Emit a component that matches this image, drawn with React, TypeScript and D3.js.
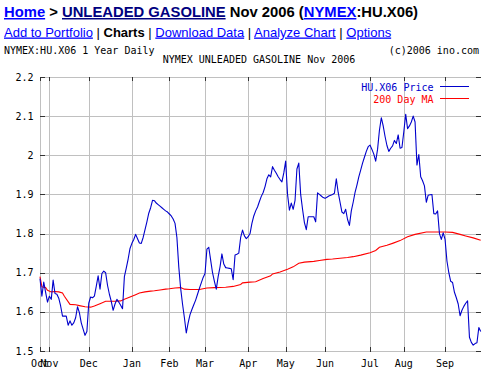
import React from 'react';
import * as d3 from 'd3';

const W = 492;
const H = 372;

// daily settlement, one value per trading session (session 0 = late Oct 2005)
const priceValues = [
  1.685, 1.640, 1.676, 1.650, 1.625, 1.640, 1.632, 1.681, 1.647, 1.645,
  1.635, 1.615, 1.589, 1.589, 1.589, 1.566, 1.577, 1.566, 1.572, 1.585,
  1.613, 1.598, 1.572, 1.556, 1.540, 1.550, 1.622, 1.638, 1.636, 1.640,
  1.665, 1.692, 1.658, 1.698, 1.704, 1.700, 1.668, 1.645, 1.627, 1.604,
  1.620, 1.632, 1.625, 1.617, 1.608, 1.690, 1.712, 1.735, 1.762, 1.775,
  1.785, 1.798, 1.787, 1.776, 1.775, 1.790, 1.810, 1.830, 1.852, 1.866,
  1.885, 1.884, 1.878, 1.874, 1.870, 1.866, 1.862, 1.858, 1.855, 1.850,
  1.845, 1.837, 1.826, 1.790, 1.715, 1.660, 1.620, 1.585, 1.546, 1.572,
  1.593, 1.606, 1.618, 1.630, 1.645, 1.660, 1.674, 1.688, 1.698, 1.760,
  1.765, 1.732, 1.700, 1.678, 1.658, 1.690, 1.715, 1.748, 1.722, 1.713,
  1.712, 1.711, 1.710, 1.682, 1.745, 1.747, 1.750, 1.790, 1.809, 1.794,
  1.787, 1.792, 1.800, 1.826, 1.845, 1.858, 1.868, 1.882, 1.895, 1.905,
  1.920, 1.940, 1.950, 1.945, 1.971, 1.962, 1.954, 1.945, 1.938, 1.932,
  1.955, 1.985, 1.900, 1.860, 1.878, 1.862, 1.885, 1.965, 1.980, 1.900,
  1.862, 1.828, 1.810, 1.843, 1.843, 1.843, 1.843, 1.830, 1.904, 1.900,
  1.896, 1.892, 1.890, 1.893, 1.896, 1.898, 1.900, 1.903, 1.940, 1.905,
  1.880, 1.855, 1.851, 1.862, 1.836, 1.821, 1.858, 1.880, 1.905, 1.924,
  1.945, 1.962, 1.980, 1.995, 2.010, 2.022, 2.026, 2.015, 2.003, 1.985,
  2.015, 2.064, 2.096, 2.075, 2.048, 2.025, 2.010, 2.018, 2.024, 2.038,
  2.030, 2.052, 2.018, 2.020, 2.060, 2.105, 2.068, 2.075, 2.085, 2.100,
  2.085, 1.975, 2.002, 1.945, 1.935, 1.922, 1.880, 1.898, 1.899, 1.900,
  1.851, 1.850, 1.858, 1.800, 1.785, 1.802, 1.785, 1.730, 1.700, 1.678,
  1.675, 1.650, 1.636, 1.620, 1.590, 1.604, 1.614, 1.622, 1.628, 1.535,
  1.522, 1.515, 1.519, 1.521, 1.560, 1.550,
];

// 200 day moving average, read at selected sessions
const maSessions = [
  0, 1, 3, 4, 6, 8, 10, 12, 13, 16, 19, 21, 24, 27, 29, 32, 35, 37, 40, 43,
  45, 48, 51, 53, 56, 59, 61, 64, 67, 69, 72, 75, 77, 80, 85, 89, 93, 99, 103, 107,
  108, 112, 115, 119, 123, 124, 128, 132, 135, 138, 141, 146, 149, 153, 156, 160, 164, 167, 171, 176,
  179, 181, 185, 188, 192, 196, 200, 206, 216, 220, 224, 227, 231, 235,
];
const maValues = [
  1.690, 1.664, 1.662, 1.655, 1.651, 1.652, 1.651, 1.648, 1.640, 1.619, 1.618, 1.616, 1.613, 1.612, 1.615, 1.621, 1.627, 1.627, 1.627, 1.628,
  1.632, 1.638, 1.644, 1.648, 1.651, 1.653, 1.654, 1.656, 1.658, 1.659, 1.661, 1.662, 1.658, 1.657, 1.657, 1.661, 1.662, 1.663, 1.665, 1.670,
  1.674, 1.676, 1.677, 1.685, 1.692, 1.697, 1.702, 1.709, 1.715, 1.724, 1.727, 1.729, 1.731, 1.734, 1.735, 1.737, 1.739, 1.741, 1.745, 1.751,
  1.757, 1.765, 1.770, 1.775, 1.782, 1.792, 1.798, 1.804, 1.804, 1.803, 1.798, 1.794, 1.789, 1.783,
];

const yTicks = [1.5, 1.6, 1.7, 1.8, 1.9, 2.0, 2.1, 2.2];
const monthLabels = ['Oct', 'Nov', 'Dec', 'Jan', 'Feb', 'Mar', 'Apr', 'May', 'Jun', 'Jul', 'Aug', 'Sep'];
const monthSessions = [0, 5, 26, 49, 69, 88, 111, 131, 152, 176, 194, 216];

const MONO = '"DejaVu Sans Mono", monospace';
const SANS = '"Liberation Sans", Arial, sans-serif';
const GRID = '#c0c0c0';
const TICK = '#333333';
const BLUE = '#0000cc';
const RED = '#ff0000';
const LINK = '#0000ff';

export default function App() {
  const left = 40;
  const right = 480.7;
  const top = 77;
  const bottom = 351;

  const x = d3.scaleLinear().domain([0, priceValues.length - 1]).range([left, right]);
  const y = d3.scaleLinear().domain([1.5, 2.2]).range([bottom, top]);
  const crisp = (v: number) => Math.round(v) + 0.5;

  const priceLine = d3
    .line<number>()
    .x((_, i) => x(i))
    .y((d) => y(d));
  const maLine = d3
    .line<number>()
    .x((_, i) => x(maSessions[i]))
    .y((d) => y(d));

  const gridRight = 481;

  return (
    <div style={{ position: 'absolute', left: 0, top: 0, width: W, height: H, background: '#fff' }}>
      <svg width={W} height={H} style={{ display: 'block' }}>
        <rect width={W} height={H} fill="#fff" />
        {/* header */}
        <text x={4} y={17} fontFamily={SANS} fontSize={14.8} fontWeight="bold" fill="#000">
          <tspan fill={LINK} style={{ textDecoration: 'underline' }}>Home</tspan>
          <tspan>{' > '}</tspan>
          <tspan fill="#000080" style={{ textDecoration: 'underline' }}>UNLEADED GASOLINE</tspan>
          <tspan>{' Nov 2006 ('}</tspan>
          <tspan fill={LINK} style={{ textDecoration: 'underline' }}>NYMEX</tspan>
          <tspan>{':HU.X06)'}</tspan>
        </text>
        <text x={4} y={36.5} fontFamily={SANS} fontSize={13} fill="#000">
          <tspan fill={LINK} style={{ textDecoration: 'underline' }}>Add to Portfolio</tspan>
          <tspan>{' | '}</tspan>
          <tspan fontWeight="bold">Charts</tspan>
          <tspan>{' | '}</tspan>
          <tspan fill={LINK} style={{ textDecoration: 'underline' }}>Download Data</tspan>
          <tspan>{' | '}</tspan>
          <tspan fill={LINK} style={{ textDecoration: 'underline' }}>Analyze Chart</tspan>
          <tspan>{' | '}</tspan>
          <tspan fill={LINK} style={{ textDecoration: 'underline' }}>Options</tspan>
        </text>
        <text x={4} y={54} fontFamily={MONO} fontSize={10} fill="#000">NYMEX:HU.X06 1 Year Daily</text>
        <text x={479} y={54} fontFamily={MONO} fontSize={10} fill="#000" textAnchor="end">(c)2006 ino.com</text>
        <text x={259} y={63} fontFamily={MONO} fontSize={10} fill="#000" textAnchor="middle">NYMEX UNLEADED GASOLINE Nov 2006</text>

        {/* grid */}
        {yTicks.map((t) => (
          <line key={'gy' + t} x1={left} x2={gridRight} y1={crisp(y(t))} y2={crisp(y(t))} stroke={GRID} strokeWidth={1} />
        ))}
        {monthSessions.map((s, i) => (
          <line key={'gx' + i} x1={crisp(x(s))} x2={crisp(x(s))} y1={top} y2={bottom + 1} stroke={GRID} strokeWidth={1} />
        ))}
        <line x1={crisp(left)} x2={crisp(left)} y1={top} y2={bottom + 1} stroke={GRID} strokeWidth={1} />

        {/* ticks */}
        {yTicks.map((t) => (
          <g key={'ty' + t}>
            <line x1={left} x2={left + 5} y1={crisp(y(t))} y2={crisp(y(t))} stroke={TICK} strokeWidth={1} />
            <line x1={gridRight - 5} x2={gridRight} y1={crisp(y(t))} y2={crisp(y(t))} stroke={TICK} strokeWidth={1} />
            <text x={33.5} y={y(t)} dy="0.36em" fontFamily={MONO} fontSize={10} fill="#000" textAnchor="end">
              {String(t)}
            </text>
          </g>
        ))}
        {monthSessions.map((s, i) => (
          <g key={'tx' + i}>
            <line x1={crisp(x(s))} x2={crisp(x(s))} y1={top} y2={top + 4} stroke={TICK} strokeWidth={1} />
            <line x1={crisp(x(s))} x2={crisp(x(s))} y1={bottom - 4} y2={bottom + 1} stroke={TICK} strokeWidth={1} />
            <text x={x(s)} y={367} fontFamily={MONO} fontSize={10} fill="#000" textAnchor="middle">
              {monthLabels[i]}
            </text>
          </g>
        ))}

        {/* series */}
        <path d={maLine(maValues) || ''} fill="none" stroke={RED} strokeWidth={1.1} />
        <path d={priceLine(priceValues) || ''} fill="none" stroke={BLUE} strokeWidth={1.1} strokeLinejoin="round" />

        {/* legend */}
        <text x={433.5} y={90.5} fontFamily={MONO} fontSize={10} fill={BLUE} textAnchor="end">HU.X06 Price</text>
        <line x1={440} x2={469} y1={86.5} y2={86.5} stroke={BLUE} strokeWidth={1} />
        <text x={433.5} y={102.5} fontFamily={MONO} fontSize={10} fill={RED} textAnchor="end">200 Day MA</text>
        <line x1={440} x2={469} y1={98.5} y2={98.5} stroke={RED} strokeWidth={1} />
      </svg>
    </div>
  );
}
